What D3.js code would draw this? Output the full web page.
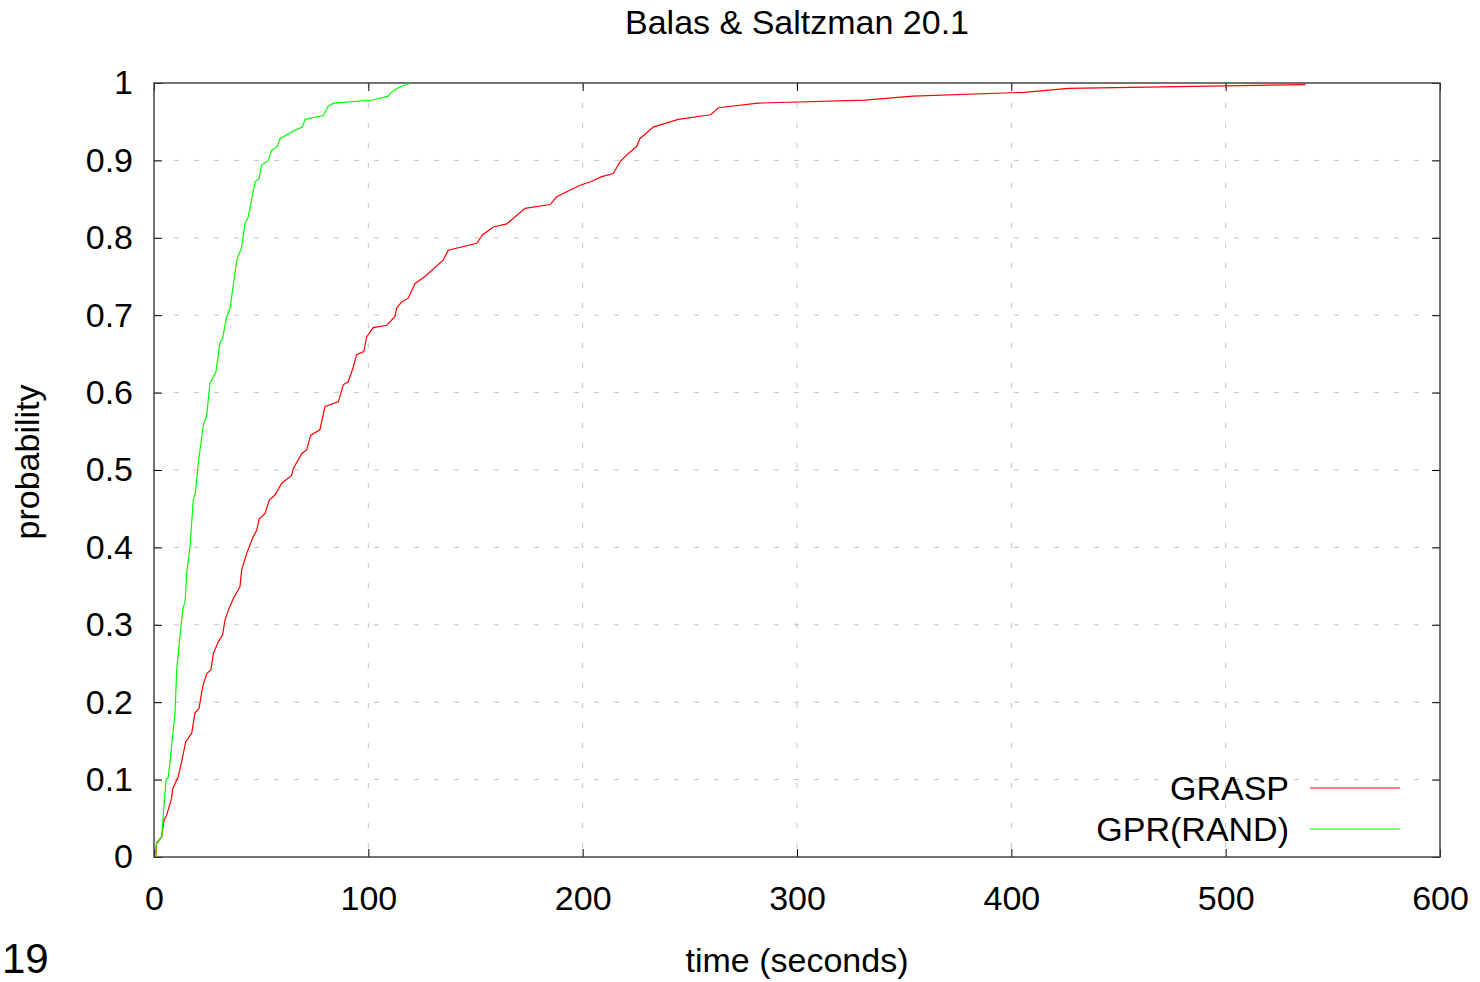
<!DOCTYPE html>
<html>
<head>
<meta charset="utf-8">
<script src="https://cdn.jsdelivr.net/npm/d3@7"></script>
<style>
  body { margin: 0; background: #fff; }
  text { font-family: "Liberation Sans", Arial, sans-serif; fill: #000; }
</style>
</head>
<body>
<svg id="chart"></svg>
<script>
// data: time (s) and cumulative probability
const graspTime = [0.8, 1.2, 3.6, 4.7, 5.9, 8.2, 8.7, 11.3, 12.9, 14.8, 17.6, 19.1, 21, 22.7, 24.6, 26.6, 27.7, 30, 32, 33.1, 34.7, 37, 40.1, 40.9, 43.2, 46, 47.9, 49.1, 51.8, 53.8, 56.5, 59.6, 64.2, 65, 68.9, 71.2, 73.1, 77.4, 79.8, 86, 88.3, 90.6, 93, 94.5, 97.9, 99.2, 102.3, 108.6, 112.4, 113.2, 115.5, 118.6, 121.8, 126.4, 134.9, 137.3, 150.6, 153.3, 158.3, 164.6, 173.1, 184.8, 187.9, 198, 204.2, 208.9, 214.3, 217.4, 221.3, 225.2, 226.7, 232.9, 244.6, 259.7, 263.3, 281.8, 331.6, 354.1, 406.2, 426.5, 537.2];
const graspProb = [0, 0.018, 0.026, 0.048, 0.054, 0.076, 0.088, 0.104, 0.123, 0.149, 0.16, 0.186, 0.192, 0.22, 0.237, 0.242, 0.263, 0.278, 0.287, 0.306, 0.319, 0.334, 0.349, 0.371, 0.392, 0.412, 0.422, 0.437, 0.444, 0.461, 0.468, 0.483, 0.493, 0.502, 0.521, 0.526, 0.545, 0.552, 0.582, 0.588, 0.61, 0.614, 0.633, 0.649, 0.653, 0.672, 0.684, 0.687, 0.698, 0.709, 0.717, 0.722, 0.741, 0.75, 0.771, 0.784, 0.793, 0.804, 0.814, 0.818, 0.838, 0.843, 0.853, 0.867, 0.873, 0.879, 0.883, 0.898, 0.909, 0.918, 0.928, 0.943, 0.953, 0.959, 0.968, 0.974, 0.978, 0.983, 0.988, 0.993, 0.998];

const gprTime = [0.8, 1, 3.6, 5.6, 6.7, 9.8, 10.6, 12.1, 13.4, 14.6, 15.2, 16.8, 18.3, 19.3, 20.7, 23, 24.6, 26.1, 28.9, 30.8, 32, 33.9, 35.5, 38.6, 40.9, 42.5, 44, 47.1, 49.1, 50.2, 53.3, 54.9, 57.5, 58.8, 65, 69.2, 70.5, 79, 81.3, 83.7, 102.3, 109.3, 110.4, 113.2, 118.7, 119.5];
const gprProb = [0, 0.016, 0.026, 0.1, 0.103, 0.186, 0.242, 0.285, 0.319, 0.332, 0.366, 0.401, 0.461, 0.47, 0.51, 0.558, 0.571, 0.612, 0.627, 0.664, 0.67, 0.698, 0.709, 0.771, 0.788, 0.819, 0.827, 0.872, 0.877, 0.894, 0.9, 0.913, 0.918, 0.928, 0.938, 0.943, 0.953, 0.958, 0.97, 0.974, 0.978, 0.983, 0.987, 0.993, 0.999, 1];

const seriesNames = ['GRASP', 'GPR(RAND)'];
const seriesColors = ['#ff0000', '#00ff00'];
const xTicks = [0, 100, 200, 300, 400, 500, 600];
const yTicks = [0, 0.1, 0.2, 0.3, 0.4, 0.5, 0.6, 0.7, 0.8, 0.9, 1];

const W = 1480, H = 982;
const margin = { top: 83, right: 40, bottom: 125, left: 154 };
const width = W - margin.left - margin.right;
const height = H - margin.top - margin.bottom;
const fs = 34;

const svg = d3.select('#chart').attr('width', W).attr('height', H);

const x = d3.scaleLinear().domain([0, 600]).range([0, width]);
const y = d3.scaleLinear().domain([0, 1]).range([height, 0]);

const g = svg.append('g').attr('transform', `translate(${margin.left},${margin.top})`);

// dashed grid
g.append('g').selectAll('line')
    .data(xTicks.slice(1, -1))
    .join('line')
    .attr('x1', d => x(d)).attr('x2', d => x(d))
    .attr('y1', 0).attr('y2', height)
    .attr('stroke', '#c4c4c4')
    .attr('stroke-dasharray', '5,15');

g.append('g').selectAll('line')
    .data(yTicks.slice(1, -1))
    .join('line')
    .attr('x1', 0).attr('x2', width)
    .attr('y1', d => y(d)).attr('y2', d => y(d))
    .attr('stroke', '#c4c4c4')
    .attr('stroke-dasharray', '5,15');

// axes: labels outside, ticks pointing inward (mirrored on top and right)
const xAxis = g.append('g')
    .attr('transform', `translate(0,${height})`)
    .call(d3.axisBottom(x).tickValues(xTicks).tickSize(-8).tickPadding(29).tickFormat(d3.format('d')));
const yAxis = g.append('g')
    .call(d3.axisLeft(y).tickValues(yTicks).tickSize(-8).tickPadding(21).tickFormat(d => d === 0 || d === 1 ? d : d.toFixed(1)));
g.append('g')
    .call(d3.axisTop(x).tickValues(xTicks).tickSize(-8).tickFormat(''));
g.append('g')
    .attr('transform', `translate(${width},0)`)
    .call(d3.axisRight(y).tickValues(yTicks).tickSize(-8).tickFormat(''));

g.selectAll('.domain').remove();
g.selectAll('.tick line').attr('stroke', '#000');
xAxis.selectAll('text').attr('font-size', fs).attr('dy', '0.71em')
    .style('font-family', '"Liberation Sans", Arial, sans-serif');
yAxis.selectAll('text').attr('font-size', fs)
    .style('font-family', '"Liberation Sans", Arial, sans-serif');

// frame
g.append('rect')
    .attr('width', width).attr('height', height)
    .attr('fill', 'none')
    .attr('stroke', '#444')
    .attr('stroke-width', 1.5);

// curves
const line = d3.line().x(d => x(d[0])).y(d => y(d[1]));
const series = [
    d3.zip(graspTime, graspProb),
    d3.zip(gprTime, gprProb)
];

g.selectAll('.curve')
    .data(series)
    .join('path')
    .attr('class', 'curve')
    .attr('d', line)
    .attr('fill', 'none')
    .attr('stroke', (d, i) => seriesColors[i])
    .attr('stroke-width', 1.2);

// legend
const legend = svg.append('g');
seriesNames.forEach((name, i) => {
    const ly = 788 + i * 41;
    legend.append('text')
        .attr('x', 1289).attr('y', ly)
        .attr('dy', '0.35em')
        .attr('text-anchor', 'end')
        .attr('font-size', fs)
        .text(name);
    legend.append('line')
        .attr('x1', 1310).attr('x2', 1400)
        .attr('y1', ly).attr('y2', ly)
        .attr('stroke', seriesColors[i])
        .attr('stroke-width', 1.2);
});

// titles
svg.append('text')
    .attr('x', 797).attr('y', 34)
    .attr('text-anchor', 'middle')
    .attr('font-size', fs)
    .text('Balas & Saltzman 20.1');

svg.append('text')
    .attr('x', 797).attr('y', 972)
    .attr('text-anchor', 'middle')
    .attr('font-size', fs)
    .text('time (seconds)');

svg.append('text')
    .attr('transform', 'translate(39,462) rotate(-90)')
    .attr('text-anchor', 'middle')
    .attr('font-size', fs)
    .text('probability');

svg.append('text')
    .attr('x', 2).attr('y', 973)
    .attr('font-size', 42)
    .text('19');
</script>
</body>
</html>
